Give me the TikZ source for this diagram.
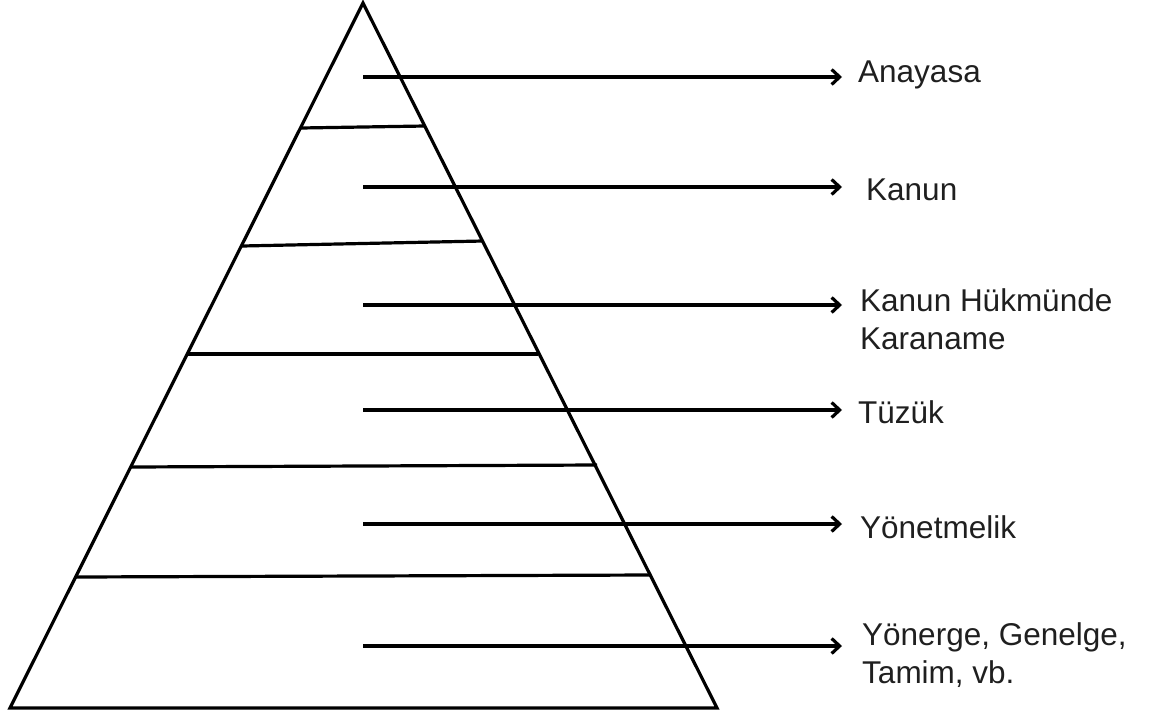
\documentclass[tikz,border=0pt]{standalone}
\usepackage{fontspec}
\setmainfont{Liberation Sans}
\usetikzlibrary{arrows.meta}
\begin{document}
\begin{tikzpicture}[x=1pt,y=-1pt,
  edge/.style={line width=3.2pt,line join=miter},
  tier/.style={line width=3.2pt},
  pointer/.style={line width=3.2pt,-{Straight Barb[length=8pt,width=15pt,line width=3.2pt]}},
  lbl/.style={anchor=west,inner sep=0pt,align=left,text=black!88,font=\fontsize{31.5}{38}\selectfont}]
\useasboundingbox (0,0) rectangle (1149,718);
% pyramid
\coordinate (apex) at (363,3);
\coordinate (bl) at (10,708);
\coordinate (br) at (717,708);
\draw[edge] (apex) -- (bl) -- (br) -- cycle;
% tiers
\coordinate (t1l) at (301,128); \coordinate (t1r) at (425,126);
\coordinate (t2l) at (242,246); \coordinate (t2r) at (483,241);
\coordinate (t3l) at (188,354); \coordinate (t3r) at (538,354);
\coordinate (t4l) at (131,467); \coordinate (t4r) at (597,465);
\coordinate (t5l) at (76,577);  \coordinate (t5r) at (651,575);
\foreach \i in {1,...,5} \draw[tier] (t\i l) -- (t\i r);
% labels
\node[lbl] (l1) at (858,75) {Anayasa};
\node[lbl] (l2) at (866,190) {Kanun};
\node[lbl] (l3) at (860,319) {Kanun Hükmünde\\Karaname};
\node[lbl] (l4) at (858,412) {Tüzük};
\node[lbl] (l5) at (860,527) {Yönetmelik};
\node[lbl] (l6) at (862,655) {Yönerge, Genelge,\\Tamim, vb.};
% arrows
\foreach \i/\y in {1/77,2/187,3/305,4/410,5/524,6/646}{
  \coordinate (s\i) at (363,\y);
  \coordinate (e\i) at (842,\y);
  \draw[pointer] (s\i) -- (e\i);
}
\end{tikzpicture}
\end{document}
